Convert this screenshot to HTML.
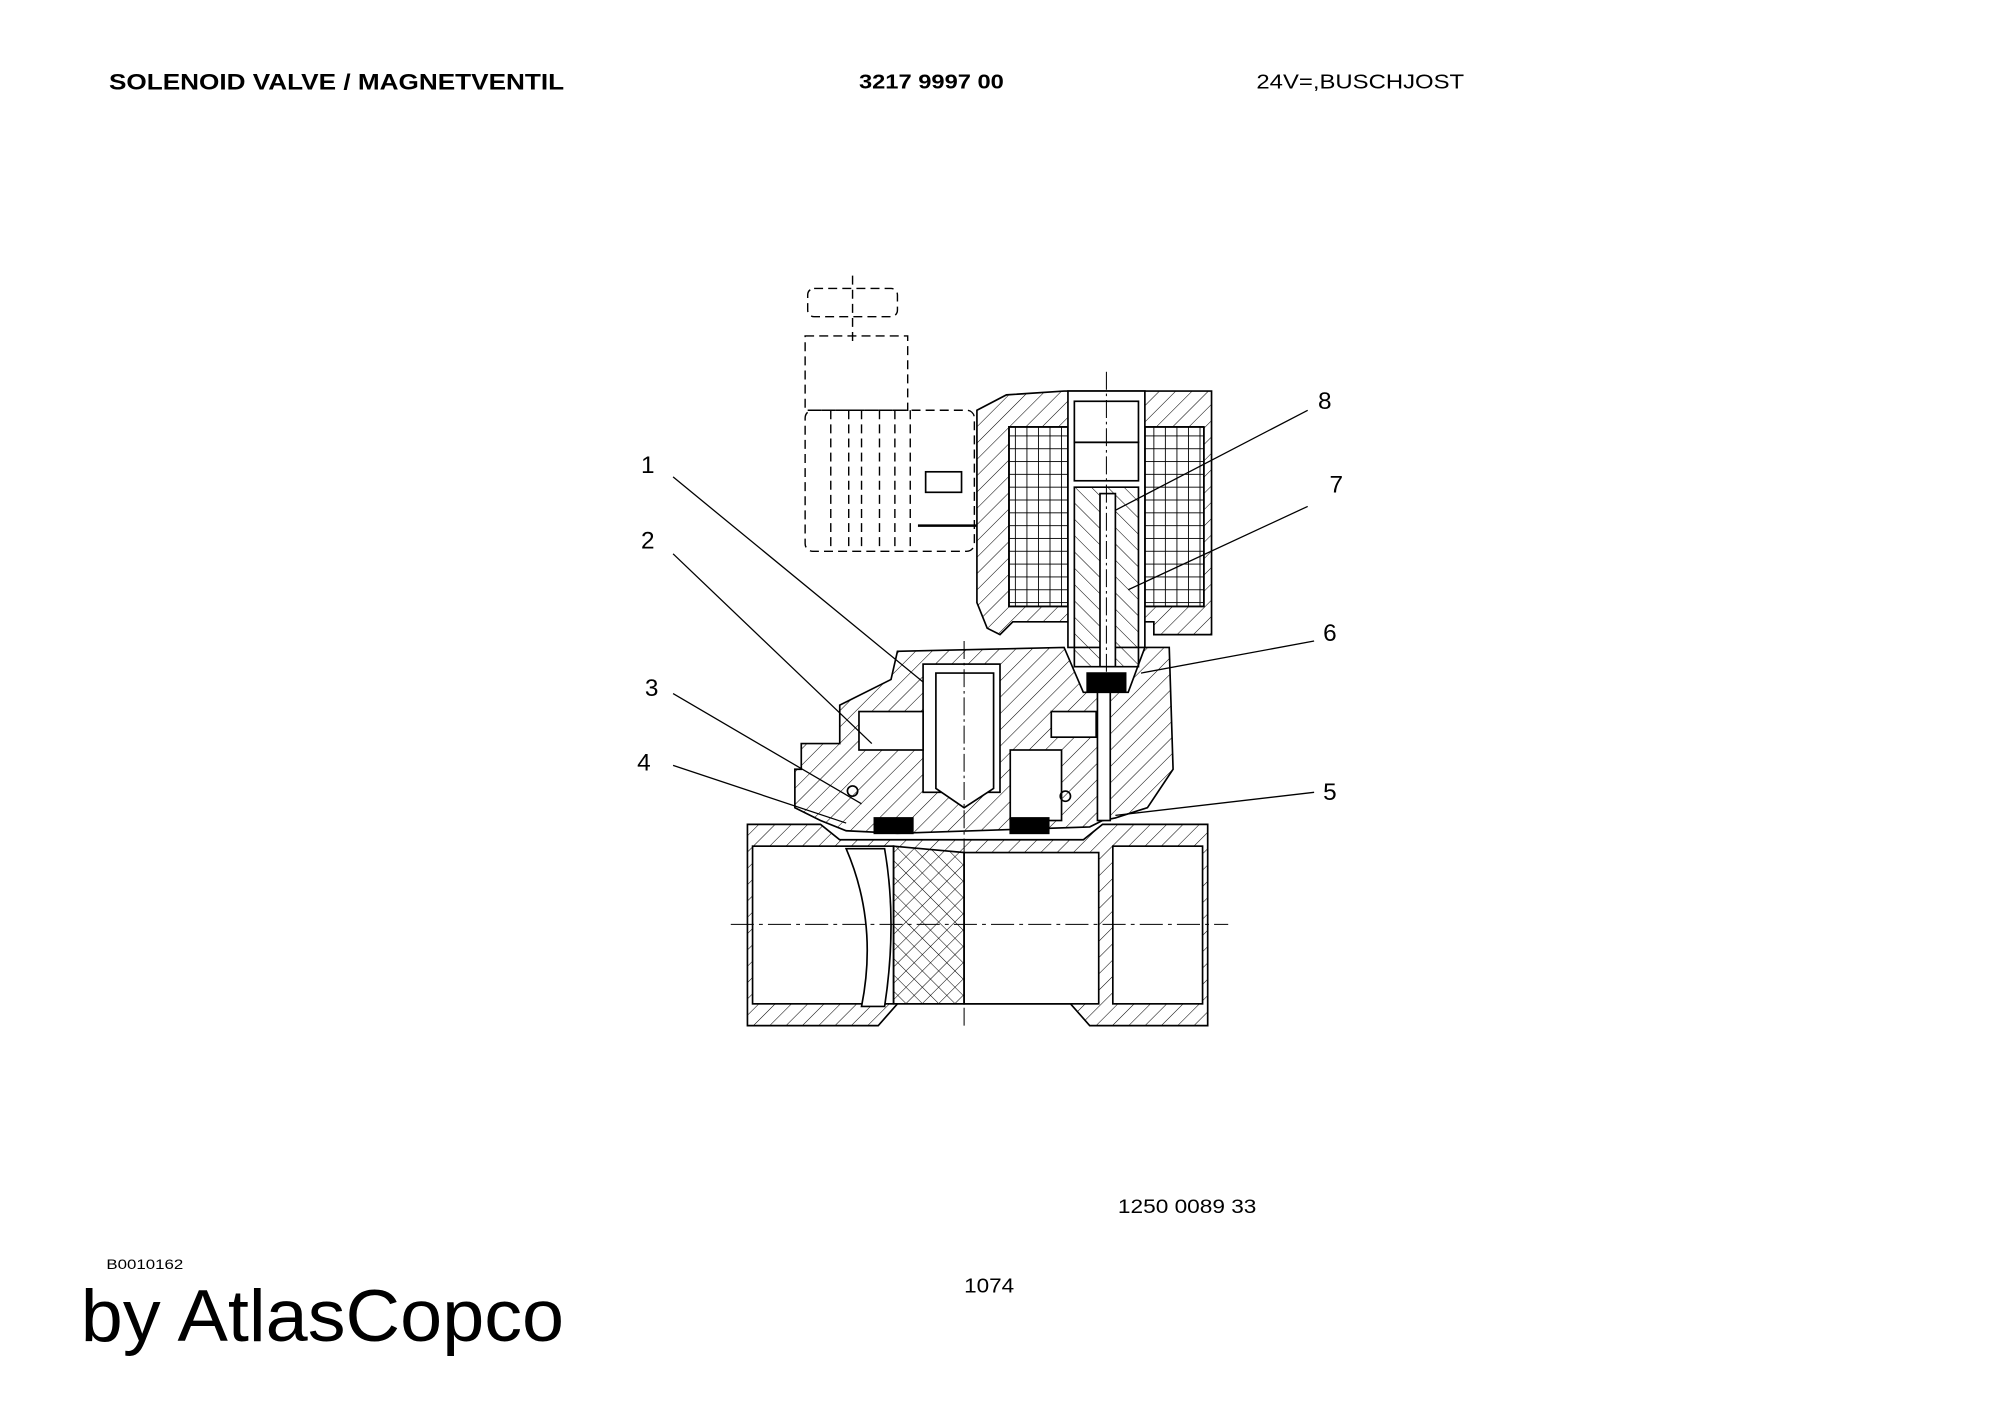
<!DOCTYPE html>
<html><head><meta charset="utf-8"><style>
html,body{margin:0;padding:0;background:#fff;width:2000px;height:1415px;overflow:hidden}
svg{display:block}
</style></head><body>
<svg width="2000" height="1415" viewBox="0 0 1560 1103.7" preserveAspectRatio="none" xmlns="http://www.w3.org/2000/svg" font-family="Liberation Sans, Arial, sans-serif">
<defs>
<pattern id="h" width="9" height="9" patternUnits="userSpaceOnUse" patternTransform="rotate(45)"><line x1="0" y1="0" x2="0" y2="9" stroke="#000" stroke-width="0.8"/></pattern>
<pattern id="h2" width="9" height="9" patternUnits="userSpaceOnUse" patternTransform="rotate(-45)"><line x1="0" y1="0" x2="0" y2="9" stroke="#000" stroke-width="0.8"/></pattern>
<pattern id="g" width="9" height="10" patternUnits="userSpaceOnUse"><rect width="9" height="10" fill="none" stroke="#000" stroke-width="0.7"/></pattern>
</defs>
<text x="85" y="70" font-size="17" font-weight="bold" textLength="355" lengthAdjust="spacingAndGlyphs">SOLENOID VALVE / MAGNETVENTIL</text>
<text x="670" y="69" font-size="16" font-weight="bold" textLength="113" lengthAdjust="spacingAndGlyphs">3217 9997 00</text>
<text x="980" y="69" font-size="16" textLength="162" lengthAdjust="spacingAndGlyphs">24V=,BUSCHJOST</text>
<text x="872" y="946" font-size="15" textLength="108" lengthAdjust="spacingAndGlyphs">1250 0089 33</text>
<text x="83" y="990" font-size="11" textLength="60" lengthAdjust="spacingAndGlyphs">B0010162</text>
<text x="752" y="1008" font-size="16" textLength="39" lengthAdjust="spacingAndGlyphs">1074</text>
<text x="63" y="1046" font-size="57" textLength="377" lengthAdjust="spacingAndGlyphs">by AtlasCopco</text>
<g fill="none" stroke="#000" stroke-width="1.3">
<g stroke-dasharray="7,4" stroke-width="1.1">
<rect x="630" y="225" width="70" height="22" rx="5"/>
<rect x="628" y="262" width="80" height="58"/>
<rect x="628" y="320" width="132" height="110" rx="6"/>
<line x1="648" y1="320" x2="648" y2="430"/><line x1="662" y1="320" x2="662" y2="430"/><line x1="672" y1="320" x2="672" y2="430"/><line x1="686" y1="320" x2="686" y2="430"/><line x1="698" y1="320" x2="698" y2="430"/><line x1="710" y1="320" x2="710" y2="430"/>
<line x1="665" y1="215" x2="665" y2="270"/>
</g>
<rect x="722" y="368" width="28" height="16"/><line x1="716" y1="410" x2="762" y2="410" stroke-width="2"/>
<path d="M762,320 L785,308 L830,305 L945,305 L945,495 L900,495 L900,485 L790,485 L780,495 L770,490 L762,470 Z" fill="url(#h)"/>
<rect x="787" y="333" width="46" height="140" fill="#fff"/><rect x="787" y="333" width="46" height="140" fill="url(#g)"/>
<rect x="893" y="333" width="46" height="140" fill="#fff"/><rect x="893" y="333" width="46" height="140" fill="url(#g)"/>
<rect x="833" y="305" width="60" height="200" fill="#fff"/>
<rect x="838" y="313" width="50" height="32"/><rect x="838" y="345" width="50" height="30"/>
<path d="M838,380 L888,380 L888,520 L838,520 Z" fill="url(#h2)"/>
<rect x="858" y="385" width="12" height="135" fill="#fff"/>
<line x1="863" y1="290" x2="863" y2="545" stroke-dasharray="14,3,2,3" stroke-width="0.8"/>
<path d="M620,600 L625,600 L625,580 L655,580 L655,550 L695,530 L700,508 L830,505 L845,540 L880,540 L893,505 L912,505 L915,600 L895,630 L870,638 L860,640 L850,645 L700,650 L660,648 L640,640 L620,630 Z" fill="url(#h)"/>
<rect x="720" y="518" width="60" height="100" fill="#fff"/>
<path d="M730,525 L775,525 L775,615 L752,630 L730,615 Z" fill="#fff"/>
<rect x="670" y="555" width="50" height="30" fill="#fff"/><rect x="820" y="555" width="35" height="20" fill="#fff"/>
<rect x="788" y="585" width="40" height="55" fill="#fff"/>
<rect x="682" y="638" width="30" height="12" fill="#000"/><rect x="788" y="638" width="30" height="12" fill="#000"/>
<rect x="848" y="525" width="30" height="14" fill="#000"/>
<rect x="856" y="540" width="10" height="100" fill="#fff"/>
<circle cx="665" cy="617" r="4"/><circle cx="831" cy="621" r="4"/>
<path d="M583,643 L640,643 L655,655 L845,655 L860,643 L942,643 L942,800 L850,800 L835,783 L700,783 L685,800 L583,800 Z" fill="url(#h)"/>
<rect x="587" y="660" width="110" height="123" fill="#fff"/>
<rect x="752" y="665" width="105" height="118" fill="#fff"/>
<rect x="868" y="660" width="70" height="123" fill="#fff"/>
<path d="M697,660 L752,665 L752,783 L697,783 Z" fill="url(#h2)"/>
<path d="M660,662 Q685,720 672,785 L690,785 Q700,720 690,662 Z" fill="#fff"/>
<line x1="570" y1="721" x2="958" y2="721" stroke-dasharray="18,4,3,4" stroke-width="0.8"/>
<line x1="752" y1="500" x2="752" y2="800" stroke-dasharray="14,3,2,3" stroke-width="0.8"/>
</g>
<g stroke="#000" stroke-width="1">
<line x1="525" y1="372" x2="720" y2="532"/>
<line x1="525" y1="432" x2="680" y2="580"/>
<line x1="525" y1="541" x2="672" y2="627"/>
<line x1="525" y1="597" x2="660" y2="642"/>
<line x1="1025" y1="618" x2="870" y2="636"/>
<line x1="1025" y1="500" x2="890" y2="525"/>
<line x1="1020" y1="395" x2="880" y2="460"/>
<line x1="1020" y1="320" x2="870" y2="398"/>
</g>
<g font-size="19">
<text x="500" y="369">1</text><text x="500" y="428">2</text><text x="503" y="543">3</text><text x="497" y="601">4</text>
<text x="1032" y="624">5</text><text x="1032" y="500">6</text><text x="1037" y="384">7</text><text x="1028" y="319">8</text>
</g>
</svg>
</body></html>
